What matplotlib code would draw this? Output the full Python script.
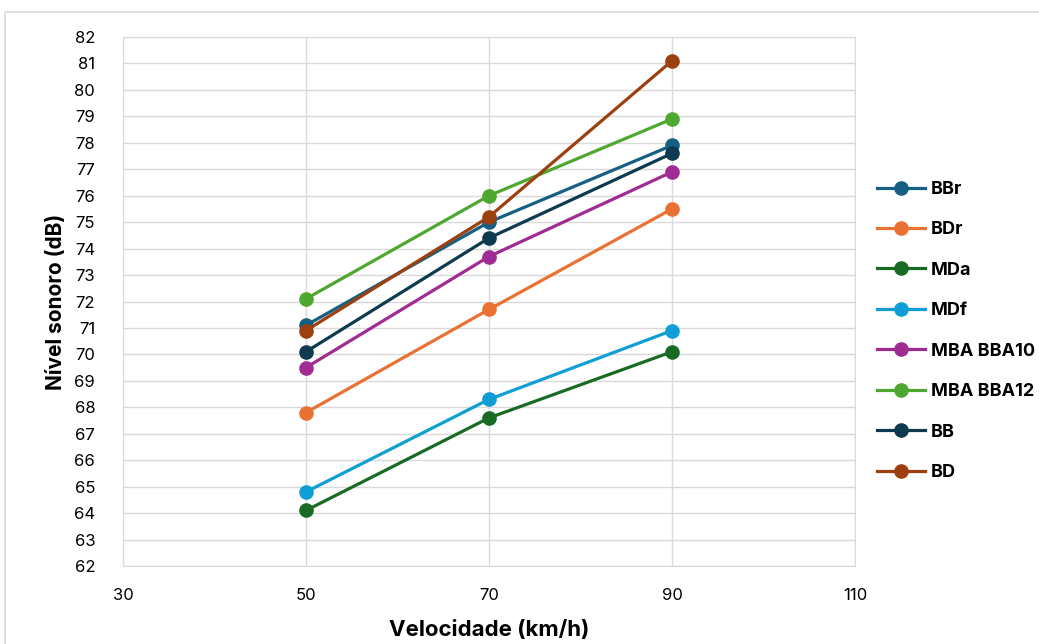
import matplotlib
matplotlib.use("Agg")
import matplotlib.pyplot as plt
from matplotlib.patches import Rectangle

velocidade = [50, 70, 90]
series_names = ["BBr", "BDr", "MDa", "MDf", "MBA BBA10", "MBA BBA12", "BB", "BD"]
bbr = [71.1, 75.0, 77.9]
bdr = [67.8, 71.7, 75.5]
mda = [64.1, 67.6, 70.1]
mdf = [64.8, 68.3, 70.9]
mba10 = [69.5, 73.7, 76.9]
mba12 = [72.1, 76.0, 78.9]
bb = [70.1, 74.4, 77.6]
bd = [70.9, 75.2, 81.1]
colors = ["#156082", "#E97132", "#196B24", "#0F9ED5", "#A02B93", "#4EA72E", "#0D3A4F", "#9C400F"]
x_ticks = [30, 50, 70, 90, 110]
y_ticks = list(range(62, 83))

plt.rcParams['font.family'] = ['Inter', 'DejaVu Sans']

fig = plt.figure(figsize=(10.39, 6.44), dpi=100)
fig.patches.append(Rectangle((0.005, -0.1), 1.1, 0.1 + 1 - 12/644, transform=fig.transFigure,
                             fill=False, edgecolor="#D9D9D9", linewidth=1.2))
ax = fig.add_axes([123/1039, 1 - 566/644, (855 - 123)/1039, (566 - 37)/644])

all_series = [bbr, bdr, mda, mdf, mba10, mba12, bb, bd]
for name, vals, c in zip(series_names, all_series, colors):
    ax.plot(velocidade, vals, color=c, linewidth=2.3, marker='o', markersize=9.5,
            label=name, zorder=3)

ax.set_xlim(30, 110)
ax.set_ylim(62, 82)
ax.set_xticks(x_ticks)
ax.set_yticks(y_ticks)
ax.grid(True, color="#D9D9D9", linewidth=1.0, zorder=0)
ax.set_axisbelow(True)
for s in ax.spines.values():
    s.set_color("#D9D9D9")
ax.tick_params(length=0, labelsize=12, colors="#000000")
ax.tick_params(axis='y', pad=20)
ax.tick_params(axis='x', pad=16)
ax.set_xlabel("Velocidade (km/h)", fontsize=16, fontweight='bold', labelpad=12)
ax.set_ylabel("Nível sonoro (dB)", fontsize=15, fontweight='bold', labelpad=6)

leg = fig.legend(loc='center left', bbox_to_anchor=(0.828, 1 - 331/644), frameon=False,
                 prop={'weight': 'bold', 'size': 13}, labelspacing=1.3, handlelength=2.7,
                 handletextpad=0.3)

fig.savefig("out.png", dpi=100)
